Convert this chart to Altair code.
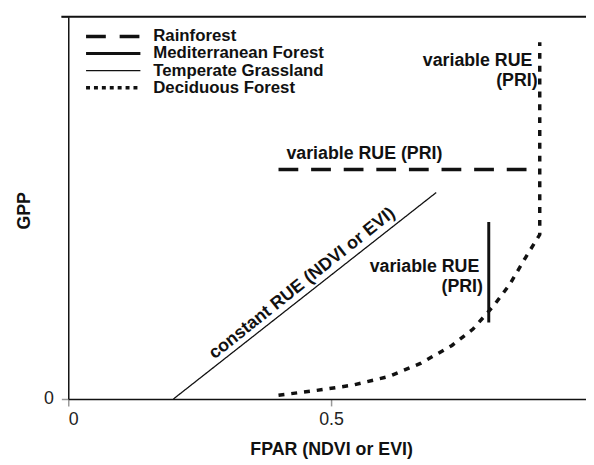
import altair as alt
import pandas as pd

# ---------------- data ----------------
series_names = ["Rainforest", "Mediterranean Forest", "Temperate Grassland", "Deciduous Forest"]

rain_x = [0.40, 0.872]
rain_y = [0.60, 0.60]
med_x = [0.80, 0.80]
med_y = [0.20, 0.463]
grass_x = [0.20, 0.70]
grass_y = [0.0, 0.54]
decid_x = [0.40, 0.47, 0.54, 0.61, 0.67, 0.73, 0.77, 0.81, 0.84, 0.87, 0.897, 0.897]
decid_y = [0.01, 0.022, 0.036, 0.059, 0.093, 0.14, 0.183, 0.245, 0.30, 0.37, 0.43, 0.933]

x_ticks = [0, 0.5]
x_tick_labels = ["0", "0.5"]
y_ticks = [0, 1]
y_tick_labels = ["0", ""]

ann_left_text = ["variable RUE (PRI)"]
ann_left_x = [0.415]
ann_left_y = [0.641]
ann_right_text = ["variable RUE", "(PRI)", "variable RUE", "(PRI)"]
ann_right_x = [0.883, 0.893, 0.782, 0.789]
ann_right_y = [0.884, 0.832, 0.346, 0.292]
ann_rot_text = ["constant RUE (NDVI or EVI)"]
ann_rot_x = [0.445]
ann_rot_y = [0.302]

# ---------------- tables ----------------
rows = []
for name, xs_, ys_ in [
    ("Rainforest", rain_x, rain_y),
    ("Mediterranean Forest", med_x, med_y),
    ("Temperate Grassland", grass_x, grass_y),
    ("Deciduous Forest", decid_x, decid_y),
]:
    for i, (xv, yv) in enumerate(zip(xs_, ys_)):
        rows.append({"series": name, "idx": i, "x": xv, "y": yv})
lines_df = pd.DataFrame(rows)

left_df = pd.DataFrame({"text": ann_left_text, "x": ann_left_x, "y": ann_left_y})
right_df = pd.DataFrame({"text": ann_right_text, "x": ann_right_x, "y": ann_right_y})
rot_df = pd.DataFrame({"text": ann_rot_text, "x": ann_rot_x, "y": ann_rot_y})
leg_df = pd.DataFrame({"series": series_names, "rank": list(range(len(series_names)))})


def label_expr(vals, labels):
    expr = "''"
    for v, l in reversed(list(zip(vals, labels))):
        expr = f"datum.value == {v} ? '{l}' : ({expr})"
    return expr


FONT = "Liberation Sans"
W, H = 524, 387

xs = alt.X(
    "x:Q",
    scale=alt.Scale(domain=[0, 0.985], nice=False, zero=False),
    axis=alt.Axis(
        values=x_ticks,
        labelExpr=label_expr(x_ticks, x_tick_labels),
        title="FPAR (NDVI or EVI)",
        titleX=266,
        titleY=51,
        titleAlign="center",
        titleBaseline="middle",
        labelPadding=5,
    ),
)
ys = alt.Y(
    "y:Q",
    scale=alt.Scale(domain=[0, 1], nice=False, zero=False),
    axis=alt.Axis(
        values=y_ticks,
        labelExpr=label_expr(y_ticks, y_tick_labels),
        title="GPP",
        titleX=-44,
        titleY=196,
        titleAngle=270,
        titleAlign="center",
        titleBaseline="middle",
        labelPadding=8,
    ),
)

dash_scale = alt.Scale(domain=series_names, range=[[20, 13], [1, 0], [1, 0], [6, 7]])
width_scale = alt.Scale(type="ordinal", domain=series_names, range=[3.5, 3, 1.3, 3.5])

lines = alt.Chart(lines_df).mark_line(color="#111", strokeCap="butt").encode(
    x=xs,
    y=ys,
    strokeDash=alt.StrokeDash("series:N", scale=dash_scale, legend=None),
    strokeWidth=alt.StrokeWidth("series:N", scale=width_scale, legend=None),
    order=alt.Order("idx:Q"),
)

frame_top = alt.Chart(leg_df.head(1)).mark_rule(color="#111", strokeWidth=2).encode(
    y=alt.datum(1), x=alt.value(-7), x2=alt.value(W)
)

txt_style = dict(font=FONT, fontSize=18, fontWeight="bold", color="#111", baseline="middle")
t_left = alt.Chart(left_df).mark_text(align="left", **txt_style).encode(
    x="x:Q", y="y:Q", text="text:N"
)
t_right = alt.Chart(right_df).mark_text(align="right", **txt_style).encode(
    x="x:Q", y="y:Q", text="text:N"
)
t_rot = alt.Chart(rot_df).mark_text(align="center", angle=321.5, **txt_style).encode(
    x="x:Q", y="y:Q", text="text:N"
)

main = alt.layer(lines, frame_top, t_left, t_right, t_rot)

leg_y = alt.Y(
    "rank:Q",
    scale=alt.Scale(domain=[0, len(series_names) - 1], range=[20, 72], nice=False, zero=False),
    axis=None,
)
leg_dash = alt.Scale(domain=series_names, range=[[20, 14], [1, 0], [1, 0], [4, 4]])
leg_rules = alt.Chart(leg_df).mark_rule(color="#111", strokeCap="butt").encode(
    x=alt.value(18),
    x2=alt.value(73),
    y=leg_y,
    strokeDash=alt.StrokeDash("series:N", scale=leg_dash, legend=None),
    strokeWidth=alt.StrokeWidth("series:N", scale=width_scale, legend=None),
)
leg_text = alt.Chart(leg_df).mark_text(
    align="left", baseline="middle", font=FONT, fontSize=17, fontWeight="bold", color="#111"
).encode(x=alt.value(86), y=leg_y, text="series:N")
legend = alt.layer(leg_rules, leg_text)

chart = (
    alt.layer(main, legend)
    .resolve_scale(y="independent", strokeDash="independent", strokeWidth="independent")
    .properties(
        width=W,
        height=H,
        autosize=alt.AutoSizeParams(type="none"),
        padding={"left": 61, "top": 6, "right": 0, "bottom": 60},
    )
    .configure_view(stroke=None)
    .configure_axis(
        grid=False,
        domainColor="#111",
        domainWidth=1.5,
        tickColor="#999",
        tickWidth=1.5,
        tickSize=7,
        labelFont=FONT,
        labelFontSize=18,
        labelColor="#222",
        titleFont=FONT,
        titleFontSize=18,
        titleFontWeight="bold",
        titleColor="#111",
    )
)

chart.save("out.html", embed_options={"renderer": "svg", "actions": False})
